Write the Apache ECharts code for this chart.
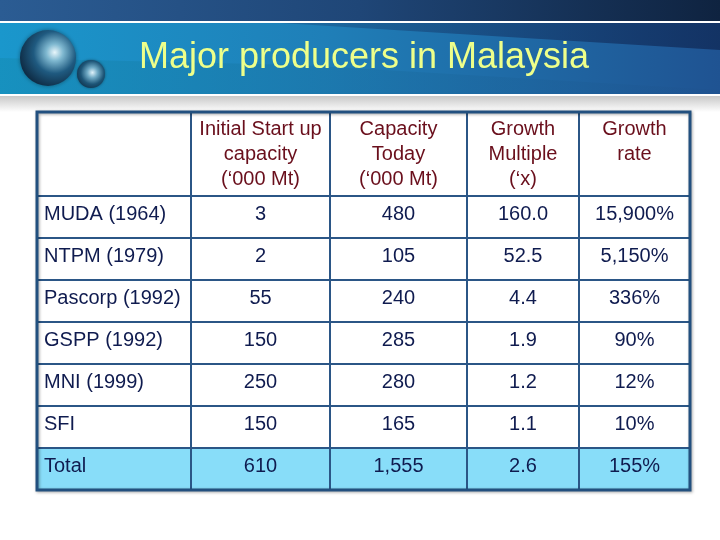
<!DOCTYPE html>
<html>
<head>
<meta charset="utf-8">
<script src="https://cdn.jsdelivr.net/npm/echarts@6/dist/echarts.min.js"></script>
<style>html,body{margin:0;padding:0;background:#fff;}#c{width:720px;height:540px;}</style>
</head>
<body>
<div id="c"></div>
<script>
// ---- data ----
var title = 'Major producers in Malaysia';
var headers = ['', 'Initial Start up\ncapacity\n(\u2018000 Mt)', 'Capacity\nToday\n(\u2018000 Mt)', 'Growth\nMultiple\n(\u2018x)', 'Growth\nrate'];
var producers = ['MUDA (1964)', 'NTPM (1979)', 'Pascorp (1992)', 'GSPP (1992)', 'MNI (1999)', 'SFI', 'Total'];
var initialCapacity = [3, 2, 55, 150, 250, 150, 610];
var capacityToday = [480, 105, 240, 285, 280, 165, 1555];
var growthMultiple = [160.0, 52.5, 4.4, 1.9, 1.2, 1.1, 2.6];
var growthRate = [15900, 5150, 336, 90, 12, 10, 155];

// ---- layout (pixels / units, not data) ----
var COL_EDGES = [0, 154, 293, 430, 542, 653];
var HEADER_UNITS = 2;
var FONT = '"Liberation Sans", Arial, sans-serif';

function fmtInt(v) { return String(v).replace(/\B(?=(\d{3})+(?!\d))/g, ','); }
var columns = [
  producers,
  initialCapacity.map(fmtInt),
  capacityToday.map(fmtInt),
  growthMultiple.map(function (v) { return v.toFixed(1); }),
  growthRate.map(function (v) { return fmtInt(v) + '%'; })
];

// cells: [col, row] where row -1 = header
var cells = [];
for (var c = 0; c < headers.length; c++) {
  cells.push({ value: [c, -1], text: headers[c] });
  for (var r = 0; r < producers.length; r++) {
    cells.push({ value: [c, r], text: columns[c][r] });
  }
}

function renderItem(params, api) {
  var col = api.value(0), row = api.value(1);
  var d = cells[params.dataIndex];
  var y0 = row < 0 ? 0 : HEADER_UNITS + row;
  var y1 = row < 0 ? HEADER_UNITS : HEADER_UNITS + row + 1;
  var p0 = api.coord([COL_EDGES[col], y0]);
  var p1 = api.coord([COL_EDGES[col + 1], y1]);
  var x = Math.min(p0[0], p1[0]), y = Math.min(p0[1], p1[1]);
  var w = Math.abs(p1[0] - p0[0]), h = Math.abs(p1[1] - p0[1]);
  var isTotal = row === producers.length - 1;
  var isHeader = row < 0;
  var textEl;
  if (isHeader) {
    textEl = { type: 'text', style: { x: x + w / 2, y: y + 5, text: d.text, fill: '#6a0f1c', font: '20px ' + FONT, align: 'center', verticalAlign: 'top', lineHeight: 25 } };
  } else if (col === 0) {
    textEl = { type: 'text', style: { x: x + 7, y: y + h / 2 - 3, text: d.text, fill: '#0f1b4f', font: '20px ' + FONT, align: 'left', verticalAlign: 'middle' } };
  } else {
    textEl = { type: 'text', style: { x: x + w / 2, y: y + h / 2 - 3, text: d.text, fill: '#0f1b4f', font: '20px ' + FONT, align: 'center', verticalAlign: 'middle' } };
  }
  return {
    type: 'group',
    children: [
      { type: 'rect', shape: { x: x, y: y, width: w, height: h }, style: { fill: isTotal ? '#88ddf9' : '#ffffff', stroke: '#2b5686', lineWidth: 2 } },
      textEl
    ]
  };
}

var chart = echarts.init(document.getElementById('c'), null, { renderer: 'canvas' });
chart.setOption({
  animation: false,
  backgroundColor: '#ffffff',
  grid: { left: 37, top: 112, width: 653, height: 378, show: false },
  xAxis: { type: 'value', min: 0, max: COL_EDGES[COL_EDGES.length - 1], show: false },
  yAxis: { type: 'value', min: 0, max: HEADER_UNITS + producers.length, inverse: true, show: false },
  series: [{
    type: 'custom',
    renderItem: renderItem,
    data: cells.map(function (d) { return d.value; }),
    clip: false,
    z: 5
  }],
  graphic: [
    // top dark band
    { type: 'rect', z: 0, shape: { x: 0, y: 0, width: 720, height: 21 },
      style: { fill: new echarts.graphic.LinearGradient(0, 0, 1, 0, [{ offset: 0, color: '#2b5c93' }, { offset: 0.5, color: '#1f4677' }, { offset: 1, color: '#0f2340' }]) } },
    // white separator
    { type: 'rect', z: 0, shape: { x: 0, y: 21, width: 720, height: 2 }, style: { fill: '#ffffff' } },
    // blue band
    { type: 'rect', z: 0, shape: { x: 0, y: 23, width: 720, height: 71 },
      style: { fill: new echarts.graphic.LinearGradient(0, 0, 1, 0, [{ offset: 0, color: '#1a97cc' }, { offset: 0.45, color: '#1f7fb8' }, { offset: 1, color: '#1f5392' }]) } },
    // darker diagonal upper-right
    { type: 'polygon', z: 1, shape: { points: [[280, 23], [720, 23], [720, 50]] },
      style: { fill: new echarts.graphic.LinearGradient(0, 0, 1, 0, [{ offset: 0, color: 'rgba(20,50,100,0.25)' }, { offset: 1, color: 'rgba(15,40,85,0.75)' }]) } },
    // lower band shade
    { type: 'polygon', z: 1, shape: { points: [[0, 58], [300, 65], [720, 90], [720, 94], [0, 94]] },
      style: { fill: new echarts.graphic.LinearGradient(0, 0, 1, 0, [{ offset: 0, color: 'rgba(20,140,180,0.55)' }, { offset: 1, color: 'rgba(30,80,140,0.3)' }]) } },
    // white separator bottom
    { type: 'rect', z: 0, shape: { x: 0, y: 94, width: 720, height: 2 }, style: { fill: '#ffffff' } },
    // gray fade band
    { type: 'rect', z: 0, shape: { x: 0, y: 96, width: 720, height: 16 },
      style: { fill: new echarts.graphic.LinearGradient(0, 0, 0, 1, [{ offset: 0, color: '#c8c8c8' }, { offset: 1, color: '#ffffff' }]) } },
    // spheres
    { type: 'circle', z: 2, shape: { cx: 48, cy: 58, r: 28 },
      style: { fill: new echarts.graphic.RadialGradient(0.62, 0.4, 0.75, [{ offset: 0, color: '#e8f6fb' }, { offset: 0.2, color: '#7fb8d0' }, { offset: 0.5, color: '#1f5a80' }, { offset: 1, color: '#081a2e' }]), shadowBlur: 4, shadowColor: 'rgba(0,0,0,0.4)' } },
    { type: 'circle', z: 2, shape: { cx: 91, cy: 74, r: 14 },
      style: { fill: new echarts.graphic.RadialGradient(0.55, 0.45, 0.75, [{ offset: 0, color: '#dff2fa' }, { offset: 0.25, color: '#6fa9c4' }, { offset: 0.55, color: '#1d5577' }, { offset: 1, color: '#081a2e' }]), shadowBlur: 3, shadowColor: 'rgba(0,0,0,0.4)' } },
    // title
    { type: 'text', z: 3, style: { x: 364, y: 58, text: title, fill: '#eeff8a', font: '36px ' + FONT, align: 'center', verticalAlign: 'middle' } },
    // outer table frame
    { type: 'rect', z: 100, shape: { x: 37, y: 112, width: 653, height: 378 },
      style: { fill: 'transparent', stroke: '#22507f', lineWidth: 3, shadowBlur: 3, shadowOffsetX: 1, shadowOffsetY: 1, shadowColor: 'rgba(0,0,0,0.35)' } }
  ]
});
</script>
</body>
</html>
